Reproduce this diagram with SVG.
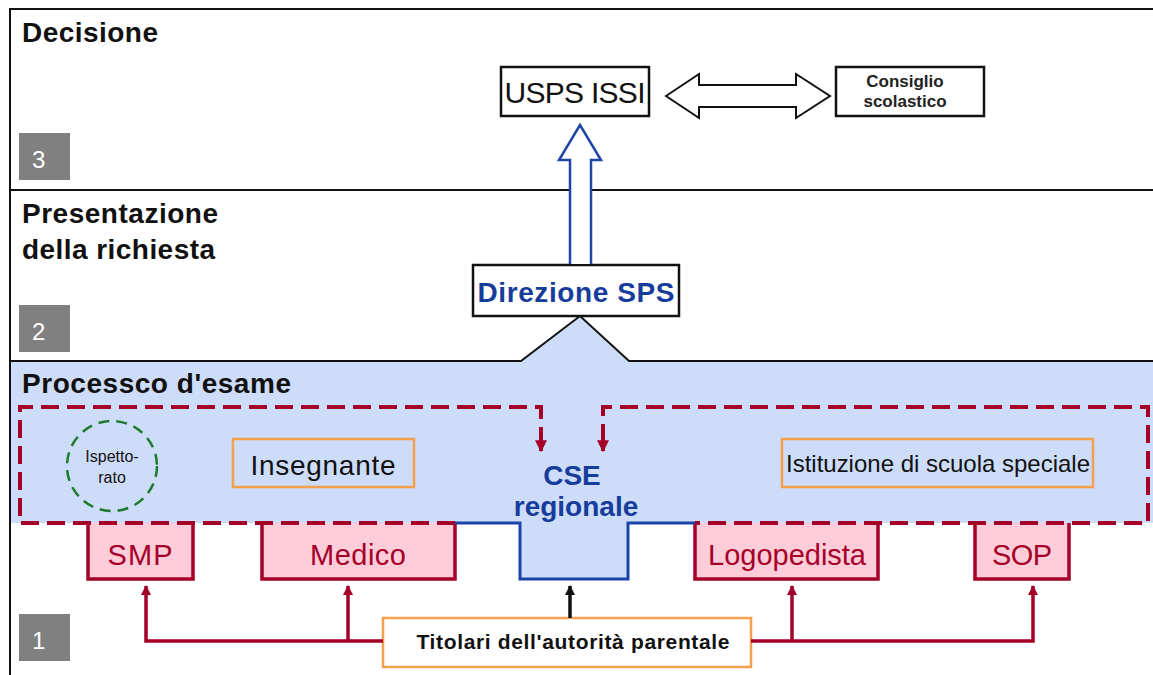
<svg xmlns="http://www.w3.org/2000/svg" width="1153" height="675" viewBox="0 0 1153 675">
<style>
text{font-family:"Liberation Sans",Arial,sans-serif}
.h{font-size:28px;font-weight:bold;fill:#111}
.num{font-size:24px;fill:#fff}
.gray{fill:#808080}
.frame{stroke:#111;stroke-width:2;fill:none}
.bx{fill:#fff;stroke:#111;stroke-width:2.5}
.or{fill:none;stroke:#f5a04c;stroke-width:2.5}
.pink{fill:#ffccda;stroke:none}
.redl{fill:none;stroke:#a50028;stroke-width:3.5}
.rt{font-size:29px;fill:#a50028;text-anchor:middle}
.bt{font-size:28px;font-weight:bold;fill:#163c9c;text-anchor:middle}
.dash{fill:none;stroke:#a50028;stroke-width:4;stroke-dasharray:18 8}
</style>
<defs>
<marker id="ra" viewBox="0 0 10 10" refX="9" refY="5" markerWidth="3" markerHeight="3" orient="auto" markerUnits="strokeWidth"><path d="M0,0 L10,5 L0,10 Z" fill="#a50028"/></marker>
<marker id="ka" viewBox="0 0 10 10" refX="9" refY="5" markerWidth="3" markerHeight="3" orient="auto" markerUnits="strokeWidth"><path d="M0,0 L10,5 L0,10 Z" fill="#111"/></marker>
</defs>
<rect width="1153" height="675" fill="#fff"/>
<g id="background">
<path d="M11,362 H521 L580,317 L629,362 H1153 V523 H628 V579 H520 V523 H11 Z" fill="#cddcf9"/>
<path class="frame" d="M10,675 V9 H1153"/>
<path class="frame" d="M10,190 H1153"/>
<path class="frame" d="M10,361 H521 L580,316 L629,361 H1153"/>
</g>
<g id="level3">
<text class="h" x="22" y="42" textLength="136">Decisione</text>
<rect class="gray" x="19" y="133" width="51" height="47"/>
<text class="num" x="32" y="168">3</text>
</g>
<g id="level2">
<text class="h" x="22" y="223" textLength="196">Presentazione</text>
<text class="h" x="22" y="259" textLength="193">della richiesta</text>
<rect class="gray" x="19" y="305" width="51" height="47"/>
<text class="num" x="32" y="340">2</text>
</g>
<g id="level1">
<text class="h" x="22" y="393" textLength="269">Processco d'esame</text>
<rect class="gray" x="19" y="614" width="51" height="47"/>
<text class="num" x="32" y="649">1</text>
</g>
<g id="usps">
<rect class="bx" x="501" y="67" width="148" height="49"/>
<text x="575" y="103" font-size="30" text-anchor="middle" textLength="141" fill="#111">USPS ISSI</text>
</g>
<g id="consiglio">
<rect class="bx" x="836" y="67" width="148" height="49"/>
<text x="905" y="87" font-size="17" font-weight="bold" text-anchor="middle" fill="#222">Consiglio</text>
<text x="905" y="107" font-size="17" font-weight="bold" text-anchor="middle" fill="#222">scolastico</text>
</g>
<g id="direzione">
<rect class="bx" x="473" y="265" width="206" height="51"/>
<text class="bt" x="576" y="302" textLength="197">Direzione SPS</text>
</g>
<g id="cse">
<text class="bt" x="572" y="485">CSE</text>
<text class="bt" x="576" y="516">regionale</text>
</g>
<g id="ispettorato">
<circle cx="112" cy="466" r="45" fill="none" stroke="#1e7a2e" stroke-width="2.5" stroke-dasharray="11 7"/>
<text x="112" y="462" font-size="16" text-anchor="middle" fill="#111">Ispetto-</text>
<text x="112" y="483" font-size="16" text-anchor="middle" fill="#111">rato</text>
</g>
<g id="insegnante">
<rect class="or" x="233" y="439" width="181" height="48"/>
<text x="323" y="475" font-size="28" text-anchor="middle" textLength="145" fill="#111">Insegnante</text>
</g>
<g id="istituzione">
<rect class="or" x="782" y="439" width="311" height="48"/>
<text x="938" y="472" font-size="24" text-anchor="middle" textLength="304" fill="#111">Istituzione di scuola speciale</text>
</g>
<g id="smp">
<rect class="pink" x="88" y="523" width="105" height="56"/>
<path class="redl" d="M88,523 V579 H193 V523"/>
<text class="rt" x="140" y="565" textLength="65">SMP</text>
</g>
<g id="medico">
<rect class="pink" x="262" y="523" width="193" height="56"/>
<path class="redl" d="M262,523 V579 H455 V523"/>
<text class="rt" x="358" y="565" textLength="96">Medico</text>
</g>
<g id="logopedista">
<rect class="pink" x="695" y="523" width="183" height="56"/>
<path class="redl" d="M695,523 V579 H878 V523"/>
<text class="rt" x="787" y="565" textLength="158">Logopedista</text>
</g>
<g id="sop">
<rect class="pink" x="975" y="523" width="94" height="56"/>
<path class="redl" d="M975,523 V579 H1069 V523"/>
<text class="rt" x="1022" y="565" textLength="60">SOP</text>
</g>
<g id="titolari">
<rect x="383" y="618" width="368" height="49" fill="#fff" stroke="#f5a04c" stroke-width="2.5"/>
<text x="573" y="649" font-size="21" font-weight="bold" text-anchor="middle" textLength="313" fill="#111">Titolari dell'autorità parentale</text>
</g>
<g id="connectors">
<path d="M570,264 V160 H559 L580,125 L601,160 H591 V264" fill="#fff" stroke="#1f45a5" stroke-width="2.5"/>
<path d="M666,96 L699,74 V85 H796 V74 L830,96 L796,118 V107 H699 V118 Z" fill="#fff" stroke="#111" stroke-width="2"/>
<path d="M455,523 H520 V579 H628 V523 H695" fill="none" stroke="#1a44a8" stroke-width="3"/>
<path class="dash" d="M455,523 H20 V407 H541 V442"/>
<path class="dash" d="M603,442 V407 H1148 V523 H695"/>
<path d="M541,440 V451" stroke="#a50028" stroke-width="4" marker-end="url(#ra)"/>
<path d="M603,440 V451" stroke="#a50028" stroke-width="4" marker-end="url(#ra)"/>
<path class="redl" d="M383,641 H146 V586" marker-end="url(#ra)"/>
<path class="redl" d="M348,641 V586" marker-end="url(#ra)"/>
<path class="redl" d="M751,641 H1033 V586" marker-end="url(#ra)"/>
<path class="redl" d="M792,641 V586" marker-end="url(#ra)"/>
<path d="M570,618 V586" stroke="#111" stroke-width="3.5" marker-end="url(#ka)"/>
</g>
</svg>
